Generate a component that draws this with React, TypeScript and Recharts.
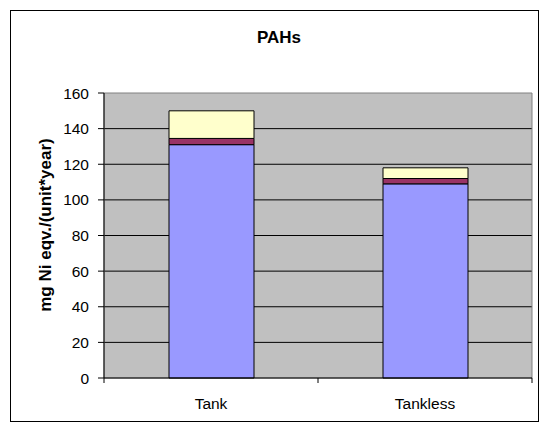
import React from "react";
import {
  BarChart,
  Bar,
  XAxis,
  YAxis,
  CartesianGrid,
  ReferenceArea,
} from "recharts";

const categories = ["Tank", "Tankless"];
const baseValues = [131, 109];
const midValues = [3.5, 3];
const topValues = [15.5, 6];
const yTicks = [0, 20, 40, 60, 80, 100, 120, 140, 160];

const data = categories.map((name, i) => ({
  name,
  base: baseValues[i],
  mid: midValues[i],
  top: topValues[i],
}));

const FONT = "'Liberation Sans', Arial, sans-serif";

// Excel-style x ticks: marks at category boundaries, label in the middle
function CategoryTick(props: any) {
  const { x, y, payload, index } = props;
  const half = payload && payload.offset ? payload.offset : 107;
  const axisY = y - 8;
  return (
    <g>
      {index === 0 && <line x1={x - half} y1={axisY} x2={x - half} y2={axisY + 5} stroke="#000" />}
      <line x1={x + half} y1={axisY} x2={x + half} y2={axisY + 5} stroke="#000" />
      <text x={x} y={axisY + 31} textAnchor="middle" fontSize={15.5} fontFamily={FONT} fill="#000">
        {payload.value}
      </text>
    </g>
  );
}

function YLabel() {
  return (
    <text
      transform="translate(51,225) rotate(-90)"
      textAnchor="middle"
      fontSize={17}
      fontWeight="bold"
      fontFamily={FONT}
      fill="#000"
    >
      mg Ni eqv./(unit*year)
    </text>
  );
}

export default function App() {
  return (
    <div style={{ position: "absolute", left: 0, top: 0, width: 539, height: 431, background: "#fff" }}>
      <div
        style={{
          position: "absolute",
          left: 10,
          top: 10,
          width: 527,
          height: 410,
          border: "1px solid #000",
        }}
      />
      <div style={{ position: "absolute", left: 0, top: 0 }}>
        <BarChart
          width={539}
          height={431}
          data={data}
          margin={{ top: 93, right: 7, bottom: 23, left: 30 }}
        >
          <text x={279} y={43} textAnchor="middle" fontSize={17} fontWeight="bold" fontFamily={FONT} fill="#000">
            PAHs
          </text>
          <CartesianGrid vertical={false} stroke="#000" fill="#C0C0C0" horizontalValues={[20, 40, 60, 80, 100, 120, 140]} />
          <ReferenceArea y1={0} y2={160} fill="none" stroke="#808080" ifOverflow="visible" />
          <XAxis
            dataKey="name"
            tickLine={false}
            axisLine={{ stroke: "#000" }}
            tick={<CategoryTick />}
            interval={0}
          />
          <YAxis
            width={74}
            domain={[0, 160]}
            ticks={yTicks}
            interval={0}
            tickSize={6}
            tickMargin={9}
            tickLine={{ stroke: "#000" }}
            axisLine={{ stroke: "#000" }}
            tick={{ fill: "#000", fontSize: 15.5, fontFamily: FONT }}
            label={{ content: () => <YLabel /> }}
          />
          <Bar dataKey="base" stackId="a" fill="#9999FF" stroke="#000" strokeWidth={1} barSize={85} isAnimationActive={false} />
          <Bar dataKey="mid" stackId="a" fill="#993366" stroke="#000" strokeWidth={1} barSize={85} isAnimationActive={false} />
          <Bar dataKey="top" stackId="a" fill="#FFFFCC" stroke="#000" strokeWidth={1} barSize={85} isAnimationActive={false} />
        </BarChart>
      </div>
    </div>
  );
}
